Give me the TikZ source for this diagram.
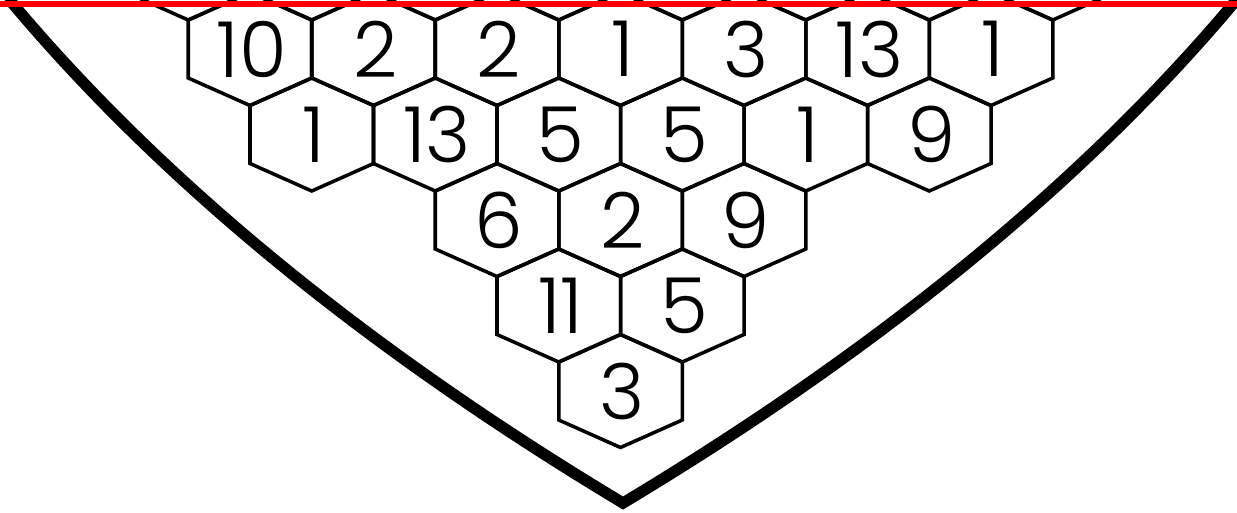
\documentclass[tikz,border=0pt]{standalone}
\usepackage{fontspec}
\setmainfont{Poppins}[UprightFont={* Light}]

% one hexagonal cell, centre (#1,#2), picture units = pixels
\newcommand{\hexcell}[2]{%
  \draw[hexline] (#1,#2-56.5) -- ++(61.75,27.5) -- ++(0,58) -- ++(-61.75,27.5)
    -- ++(-61.75,-27.5) -- ++(0,-58) -- cycle;}

\begin{document}
\begin{tikzpicture}[x=0.02cm, y=-0.02cm,
    hexline/.style={line width=2pt, line join=miter},
    hexnum/.style={font=\fontsize{44}{44}\selectfont, inner sep=0pt},
    funnel/.style={line width=6.4pt, line join=miter}]
  % 0. fixed frame
  \useasboundingbox (0,0) rectangle (1237,512);

  \begin{scope}
    \clip (0,0) rectangle (1237,512);

    % 1. cut-off row above the top line
    \foreach \k in {0,...,7} {
      \hexcell{188.25+123.5*\k}{-36.5}
    }

    % 2. numbered rows
    \foreach \v [count=\k from 0] in {10,2,2,1,3,13,1} {
      \hexcell{250+123.5*\k}{49}
      \node[hexnum] (ra\k) at (252+123.5*\k,49) {\v};
    }
    \foreach \v [count=\k from 0] in {1,13,5,5,1,9} {
      \hexcell{311.75+123.5*\k}{134.5}
      \node[hexnum] (rb\k) at (313.75+123.5*\k,134.5) {\v};
    }
    \foreach \v [count=\k from 0] in {6,2,9} {
      \hexcell{497+123.5*\k}{220}
      \node[hexnum] (rc\k) at (499+123.5*\k,220) {\v};
    }
    \foreach \v [count=\k from 0] in {11,5} {
      \hexcell{558.75+123.5*\k}{305.5}
      \node[hexnum] (rd\k) at (560.75+123.5*\k,305.5) {\v};
    }
    \hexcell{620.5}{391}
    \node[hexnum] (re0) at (622.5,391) {3};

    % 3. curved funnel round the pyramid
    \draw[funnel] (8,-2) .. controls (159.3,179.3) and (364.3,347.7) .. (623,503)
      .. controls (881.7,347.7) and (1086.7,179.3) .. (1238,-2);

    % 4. red top line
    \draw[red, line width=3.6pt] (0,4) -- (1237,4);
  \end{scope}
\end{tikzpicture}
\end{document}
